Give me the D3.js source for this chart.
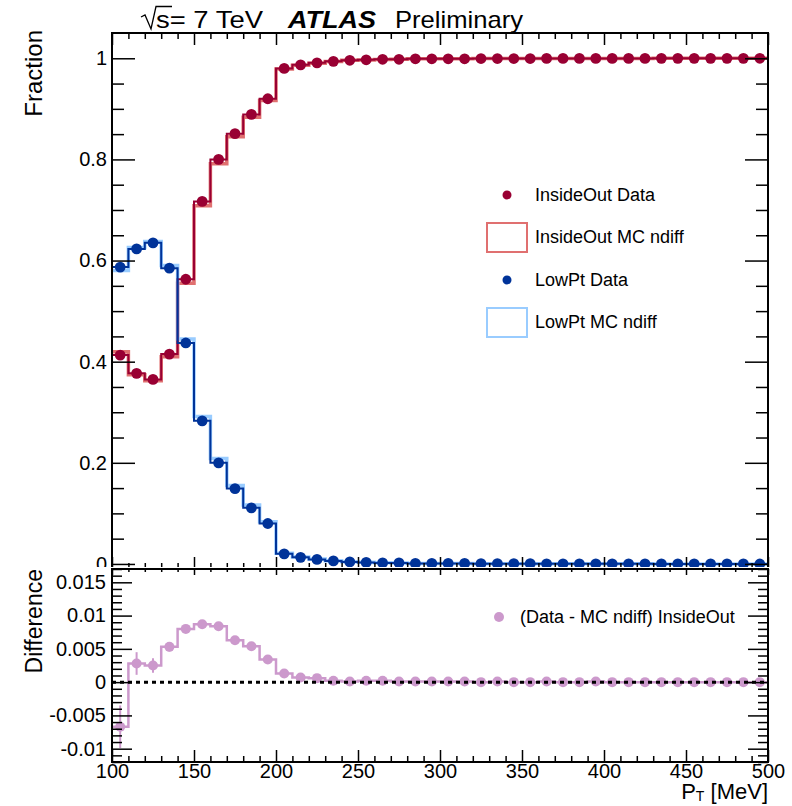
<!DOCTYPE html>
<html><head><meta charset="utf-8">
<script src="https://cdn.jsdelivr.net/npm/d3@7"></script>
<style>body{margin:0;background:#fff} svg{display:block;font-family:"Liberation Sans",Arial,sans-serif}</style>
</head><body><svg id="c" width="792" height="806"></svg>
<script>
// ---- data ----
const binLow = [100,110,120,130,140,150,160,170,180,190,200,210,220,230,240,250,260,270,280,290,
                300,310,320,330,340,350,360,370,380,390,400,410,420,430,440,450,460,470,480,490];
const binWidth = 10;
const insideOutData = [0.413,0.377,0.365,0.415,0.563,0.717,0.800,0.851,0.889,0.920,0.980,0.987,0.991,0.994,0.996,
  0.997,0.998,0.998,0.999,0.999,0.999,0.999,0.9995,0.9995,0.9995,0.9995,0.9997,0.9997,0.9997,0.9998,
  0.9998,0.9998,0.9998,0.9999,0.9999,0.9999,0.9999,0.9999,0.9999,1.0];
const insideOutMC = [0.4197,0.3742,0.3625,0.4097,0.5550,0.7083,0.7916,0.8447,0.8836,0.9166,0.9787,0.9863,0.9904,0.9938,0.9959,
  0.9968,0.9978,0.9979,0.9989,0.9989,0.9989,0.9989,0.9995,0.9994,0.9995,0.9995,0.9996,0.9997,0.9997,0.9997,
  0.9998,0.9998,0.9998,0.9999,0.9999,0.9999,0.9999,0.9999,0.9999,1.0];
const lowPtData = [0.587,0.623,0.635,0.585,0.437,0.283,0.200,0.149,0.111,0.080,0.020,0.013,0.009,0.006,0.004,
  0.003,0.002,0.002,0.001,0.001,0.001,0.001,0.0005,0.0005,0.0005,0.0005,0.0003,0.0003,0.0003,0.0002,
  0.0002,0.0002,0.0002,0.0001,0.0001,0.0001,0.0001,0.0001,0.0001,0.0];
const lowPtMC = [0.5803,0.6258,0.6375,0.5903,0.4450,0.2917,0.2084,0.1553,0.1164,0.0834,0.0213,0.0137,0.0096,0.0062,0.0041,
  0.0032,0.0022,0.0021,0.0011,0.0011,0.0011,0.0011,0.0005,0.0006,0.0005,0.0005,0.0004,0.0003,0.0003,0.0003,
  0.0002,0.0002,0.0002,0.0001,0.0001,0.0001,0.0001,0.0001,0.0001,0.0];
const diffInsideOut = [-0.0067,0.0028,0.0025,0.0053,0.0080,0.0087,0.0084,0.0063,0.0054,0.0034,0.0013,0.0007,0.0006,0.0002,0.0001,
  0.0002,0.0002,0.0001,0.0001,0.0001,0.0001,0.0001,0.0,0.0001,0.0,0.0,0.0001,0.0,0.0,0.0001,
  0.0,0.0,0.0,0.0,0.0,0.0,0.0,0.0,0.0,0.0];
const diffError = [0.0032,0.0017,0.0011,0.0007,0.0005,0.0004,0.0004,0.0003,0.0003,0.0003,0.0002,0.0002,0.0002,0.0001,0.0001,
  0.0001,0.0001,0.0001,0.0001,0.0001,0.0001,0.0001,0.0001,0.0001,0.0001,0.0001,0.0001,0.0001,0.0001,0.0001,
  0.0001,0.0001,0.0001,0.0001,0.0001,0.0001,0.0001,0.0001,0.0001,0.0001];

const topTickValues = [0,0.2,0.4,0.6,0.8,1];
const topTickLabels = ["0","0.2","0.4","0.6","0.8","1"];
const botTickValues = [-0.01,-0.005,0,0.005,0.01,0.015];
const botTickLabels = ["-0.01","-0.005","0","0.005","0.01","0.015"];
const xTickValues = [100,150,200,250,300,350,400,450,500];
const xTickLabels = ["100","150","200","250","300","350","400","450","500"];
const legendTopLabels = ["InsideOut Data","InsideOut MC ndiff","LowPt Data","LowPt MC ndiff"];
const legendBottomLabels = ["(Data - MC ndiff) InsideOut"];

// ---- styles ----
const C_IO = "#990033", C_IO_MC = "#e07070", C_LP = "#003399", C_LP_MC = "#99ccff", C_DIFF = "#cc99cc";
const FONT = '"Liberation Sans",Arial,sans-serif';
const TICKFS = 20;

const svg = d3.select("#c");
const L = 112, R = 768, T = 33, M = 569, B = 762;
const x = d3.scaleLinear([100, 500], [L, R]);
const yT = d3.scaleLinear([-0.01, 1.05], [M, T]);
const yB = d3.scaleLinear([-0.012, 0.017], [B, M]);

svg.append("rect").attr("width", 792).attr("height", 806).attr("fill", "#fff");

const defs = svg.append("defs");
defs.append("clipPath").attr("id", "clipT").append("rect").attr("x", L).attr("y", T).attr("width", R - L).attr("height", M - T);
defs.append("clipPath").attr("id", "clipB").append("rect").attr("x", L).attr("y", M).attr("width", R - L).attr("height", B - M);

function stepPts(vals) {
  const p = vals.map((v, i) => [binLow[i], v]);
  p.push([binLow[vals.length - 1] + binWidth, vals[vals.length - 1]]);
  return p;
}
const centers = binLow.map(b => b + binWidth / 2);

function styleAxis(g, fs) {
  g.select(".domain").remove();
  g.attr("font-family", FONT).attr("font-size", fs);
  g.selectAll(".tick line").attr("stroke", "#000").attr("stroke-width", 1.5);
  g.selectAll(".tick text").attr("fill", "#000");
}
function minorVals(lo, hi, step, majors) {
  const out = [];
  for (let k = Math.round(lo / step); k * step <= hi + 1e-9; k++) {
    const v = +(k * step).toFixed(6);
    if (!majors.some(m => Math.abs(m - v) < step / 10)) out.push(v);
  }
  return out;
}

// ---- top panel ----
const topG = svg.append("g");
const lineT = d3.line().x(d => x(d[0])).y(d => yT(d[1])).curve(d3.curveStepAfter);
const plotT = topG.append("g").attr("clip-path", "url(#clipT)");
plotT.append("path").attr("d", lineT(stepPts(insideOutMC))).attr("fill", "none").attr("stroke", C_IO_MC).attr("stroke-width", 3.5);
plotT.append("path").attr("d", lineT(stepPts(lowPtMC))).attr("fill", "none").attr("stroke", C_LP_MC).attr("stroke-width", 3.5);
plotT.append("path").attr("d", lineT(stepPts(insideOutData))).attr("fill", "none").attr("stroke", C_IO).attr("stroke-width", 2);
plotT.append("path").attr("d", lineT(stepPts(lowPtData))).attr("fill", "none").attr("stroke", C_LP).attr("stroke-width", 2);
plotT.selectAll("circle.io").data(insideOutData).join("circle").attr("class", "io")
  .attr("cx", (d, i) => x(centers[i])).attr("cy", d => yT(d)).attr("r", 5.4).attr("fill", C_IO);
plotT.selectAll("circle.lp").data(lowPtData).join("circle").attr("class", "lp")
  .attr("cx", (d, i) => x(centers[i])).attr("cy", d => yT(d)).attr("r", 5.4).attr("fill", C_LP);

// top axes
const yTMinor = minorVals(0, 1.0, 0.05, topTickValues);
topG.append("g").attr("transform", `translate(${L},0)`)
  .call(d3.axisLeft(yT).tickValues(topTickValues).tickSize(-23).tickPadding(5).tickFormat((d, i) => topTickLabels[i]))
  .call(g => styleAxis(g, TICKFS));
topG.append("g").attr("transform", `translate(${L},0)`)
  .call(d3.axisLeft(yT).tickValues(yTMinor).tickSize(-12).tickFormat(""))
  .call(g => styleAxis(g, TICKFS));
topG.append("g").attr("transform", `translate(${R},0)`)
  .call(d3.axisRight(yT).tickValues(topTickValues).tickSize(-23).tickFormat(""))
  .call(g => styleAxis(g, TICKFS));
topG.append("g").attr("transform", `translate(${R},0)`)
  .call(d3.axisRight(yT).tickValues(yTMinor).tickSize(-12).tickFormat(""))
  .call(g => styleAxis(g, TICKFS));
const xMinor = minorVals(100, 500, 10, xTickValues);
topG.append("g").attr("transform", `translate(0,${T})`)
  .call(d3.axisTop(x).tickValues(xTickValues).tickSize(-12).tickFormat(""))
  .call(g => styleAxis(g, TICKFS));
topG.append("g").attr("transform", `translate(0,${T})`)
  .call(d3.axisTop(x).tickValues(xMinor).tickSize(-6).tickFormat(""))
  .call(g => styleAxis(g, TICKFS));
topG.append("g").attr("transform", `translate(0,${M})`)
  .call(d3.axisBottom(x).tickValues(xTickValues).tickSize(-12).tickFormat(""))
  .call(g => styleAxis(g, TICKFS));
topG.append("g").attr("transform", `translate(0,${M})`)
  .call(d3.axisBottom(x).tickValues(xMinor).tickSize(-6).tickFormat(""))
  .call(g => styleAxis(g, TICKFS));
topG.append("rect").attr("x", L).attr("y", T).attr("width", R - L).attr("height", M - T)
  .attr("fill", "none").attr("stroke", "#000").attr("stroke-width", 2);

// top legend
const legRows = [195, 237, 280, 322];
const legSpec = [
  {type: "dot", color: C_IO}, {type: "box", color: C_IO_MC},
  {type: "dot", color: C_LP}, {type: "box", color: C_LP_MC}];
const leg = topG.append("g");
legendTopLabels.forEach((lab, i) => {
  const cy = legRows[i], s = legSpec[i];
  if (s.type === "dot") leg.append("circle").attr("cx", 507).attr("cy", cy).attr("r", 4.5).attr("fill", s.color);
  else leg.append("rect").attr("x", 487).attr("y", cy - 14).attr("width", 40).attr("height", 29)
    .attr("fill", "none").attr("stroke", s.color).attr("stroke-width", 2);
  leg.append("text").attr("x", 535).attr("y", cy).attr("dy", "0.35em").attr("font-size", 18).attr("font-family", FONT).attr("fill", "#000").text(lab);
});

// header
const hdr = svg.append("g").attr("fill", "#000").attr("font-family", FONT);
hdr.append("path").attr("d", "M141,17 L145,15 L151,29 L156,6.5 L172,6.5").attr("fill", "none").attr("stroke", "#000").attr("stroke-width", 1.3);
hdr.append("text").attr("x", 156).attr("y", 28).attr("font-size", 24).attr("textLength", 107).attr("lengthAdjust", "spacingAndGlyphs").text("s= 7 TeV");
hdr.append("text").attr("x", 288).attr("y", 28).attr("font-size", 24).attr("font-weight", "bold").attr("font-style", "italic")
  .attr("textLength", 88).attr("lengthAdjust", "spacingAndGlyphs").text("ATLAS");
hdr.append("text").attr("x", 395).attr("y", 28).attr("font-size", 24).attr("textLength", 128).attr("lengthAdjust", "spacingAndGlyphs").text("Preliminary");

// y title top
svg.append("text").attr("transform", "translate(42,30) rotate(-90)").attr("text-anchor", "end")
  .attr("font-size", 24).attr("font-family", FONT).attr("fill", "#000").text("Fraction");

// ---- bottom panel ----
svg.append("rect").attr("x", 0).attr("y", 567).attr("width", 792).attr("height", 806 - 567).attr("fill", "#fff");
const botG = svg.append("g");
const lineB = d3.line().x(d => x(d[0])).y(d => yB(d[1])).curve(d3.curveStepAfter);
const plotB = botG.append("g").attr("clip-path", "url(#clipB)");
plotB.append("path").attr("d", lineB(stepPts(diffInsideOut))).attr("fill", "none").attr("stroke", C_DIFF).attr("stroke-width", 2.5);
plotB.selectAll("line.err").data(diffInsideOut).join("line").attr("class", "err")
  .attr("x1", (d, i) => x(centers[i])).attr("x2", (d, i) => x(centers[i]))
  .attr("y1", (d, i) => yB(d - diffError[i])).attr("y2", (d, i) => yB(d + diffError[i]))
  .attr("stroke", C_DIFF).attr("stroke-width", 2);
plotB.selectAll("circle.df").data(diffInsideOut).join("circle").attr("class", "df")
  .attr("cx", (d, i) => x(centers[i])).attr("cy", d => yB(d)).attr("r", 5).attr("fill", C_DIFF);
plotB.append("line").attr("x1", x(100)).attr("x2", x(500)).attr("y1", yB(0)).attr("y2", yB(0))
  .attr("stroke", "#000").attr("stroke-width", 3).attr("stroke-dasharray", "4,4");

const yBMinor = minorVals(-0.012, 0.017, 0.001, botTickValues);
botG.append("g").attr("transform", `translate(${L},0)`)
  .call(d3.axisLeft(yB).tickValues(botTickValues).tickSize(-20).tickPadding(6).tickFormat((d, i) => botTickLabels[i]))
  .call(g => styleAxis(g, TICKFS));
botG.append("g").attr("transform", `translate(${L},0)`)
  .call(d3.axisLeft(yB).tickValues(yBMinor).tickSize(-10).tickFormat(""))
  .call(g => styleAxis(g, TICKFS));
botG.append("g").attr("transform", `translate(${R},0)`)
  .call(d3.axisRight(yB).tickValues(botTickValues).tickSize(-20).tickFormat(""))
  .call(g => styleAxis(g, TICKFS));
botG.append("g").attr("transform", `translate(${R},0)`)
  .call(d3.axisRight(yB).tickValues(yBMinor).tickSize(-10).tickFormat(""))
  .call(g => styleAxis(g, TICKFS));
botG.append("g").attr("transform", `translate(0,${M})`)
  .call(d3.axisTop(x).tickValues(xTickValues).tickSize(-6).tickFormat(""))
  .call(g => styleAxis(g, TICKFS));
botG.append("g").attr("transform", `translate(0,${M})`)
  .call(d3.axisTop(x).tickValues(xMinor).tickSize(-3).tickFormat(""))
  .call(g => styleAxis(g, TICKFS));
botG.append("g").attr("transform", `translate(0,${B})`)
  .call(d3.axisBottom(x).tickValues(xTickValues).tickSize(-12).tickPadding(2).tickFormat((d, i) => xTickLabels[i]))
  .call(g => styleAxis(g, TICKFS));
botG.append("g").attr("transform", `translate(0,${B})`)
  .call(d3.axisBottom(x).tickValues(xMinor).tickSize(-6).tickFormat(""))
  .call(g => styleAxis(g, TICKFS));
botG.append("rect").attr("x", L).attr("y", M).attr("width", R - L).attr("height", B - M)
  .attr("fill", "none").attr("stroke", "#000").attr("stroke-width", 2);

// bottom legend
botG.append("circle").attr("cx", 499).attr("cy", 617).attr("r", 5).attr("fill", C_DIFF);
botG.append("text").attr("x", 520).attr("y", 617).attr("dy", "0.35em").attr("font-size", 18).attr("font-family", FONT)
  .attr("fill", "#000").text(legendBottomLabels[0]);

// titles
svg.append("text").attr("transform", "translate(42,569) rotate(-90)").attr("text-anchor", "end")
  .attr("font-size", 23).attr("font-family", FONT).attr("fill", "#000").text("Difference");
const xt = svg.append("text").attr("x", R).attr("y", 799).attr("text-anchor", "end")
  .attr("font-size", 22).attr("font-family", FONT).attr("fill", "#000");
xt.append("tspan").text("P");
xt.append("tspan").attr("font-size", 14).attr("dy", 2).text("T");
xt.append("tspan").attr("dy", -2).text(" [MeV]");
</script></body></html>
